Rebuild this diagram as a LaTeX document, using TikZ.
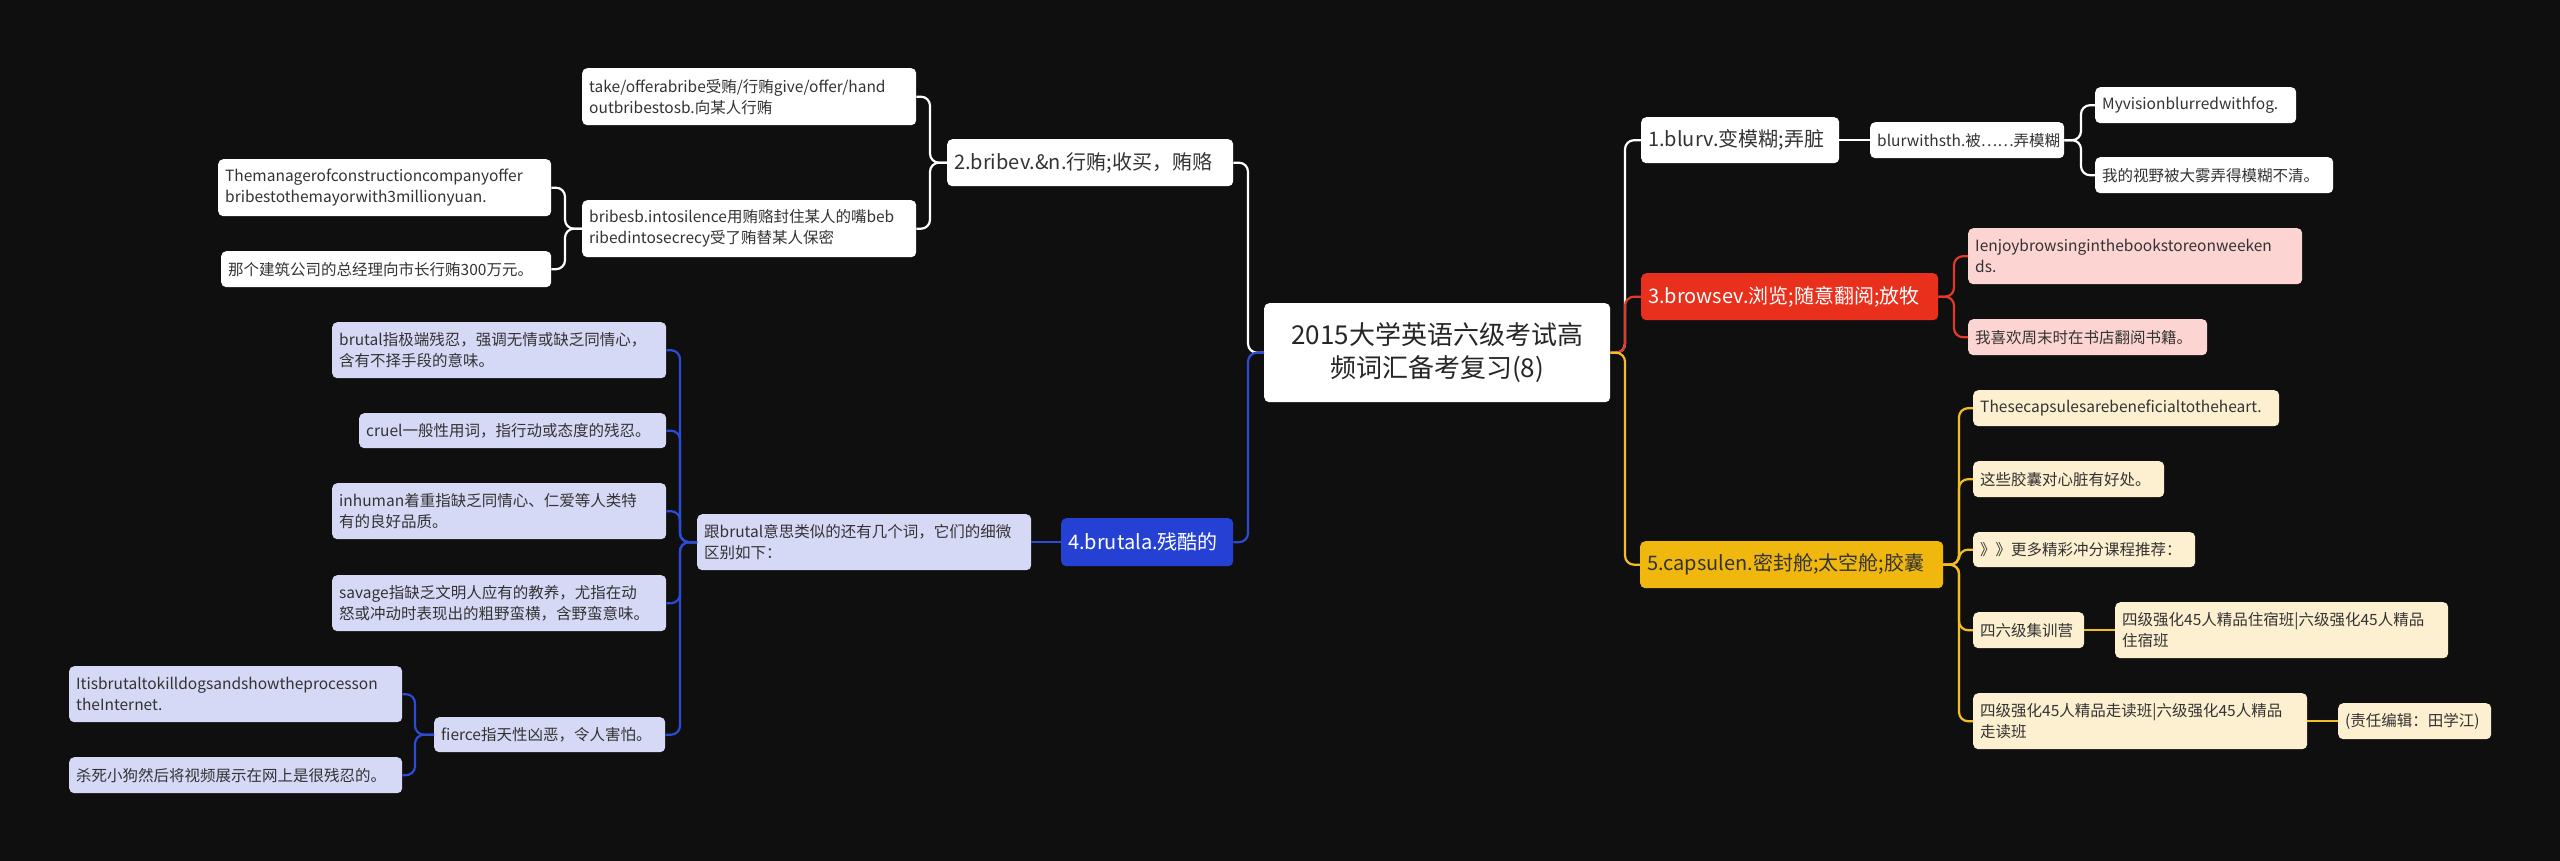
\documentclass[tikz,border=0pt]{standalone}
\usepackage{fontspec}
\setmainfont{Noto Sans CJK SC}
\definecolor{bgc}{HTML}{0F0F0F}
\definecolor{txt}{HTML}{333333}
\definecolor{blueA}{HTML}{2541D4}
\definecolor{blueL}{HTML}{2E4BD6}
\definecolor{lav}{HTML}{D6D9F6}
\definecolor{redA}{HTML}{E8301C}
\definecolor{redL}{HTML}{E03A2A}
\definecolor{pink}{HTML}{FCD4D1}
\definecolor{gold}{HTML}{F0B80F}
\definecolor{goldL}{HTML}{F2BE22}
\definecolor{cream}{HTML}{FDF0D0}
\tikzset{
  basebox/.style={rounded corners=5pt, text=txt, align=left, inner xsep=7pt, inner ysep=3pt,
     font=\fontsize{15.5}{21}\selectfont},
  wbox/.style={basebox, fill=white},
  lbox/.style={basebox, fill=lav},
  pbox/.style={basebox, fill=pink},
  cbox/.style={basebox, fill=cream},
  topic/.style={basebox, font=\fontsize{20}{25}\selectfont},
  wtopic/.style={topic, fill=white},
  btopic/.style={topic, fill=blueA, text=white},
  rtopic/.style={topic, fill=redA, text=white},
  gtopic/.style={topic, fill=gold, text=txt},
  centerbox/.style={basebox, fill=white, align=center, text=black!85,
     font=\fontsize{26}{33}\selectfont},
  conn/.style={line width=2.2pt, rounded corners=9pt},
  wl/.style={conn, draw=white},
  bl/.style={conn, draw=blueL},
  rl/.style={conn, draw=redL},
  yl/.style={conn, draw=goldL},
}
\newcommand\mkbox[7]{%
  \pgfmathsetmacro\mkw{#5-#3}%
  \pgfmathsetmacro\mkh{#6-#4}%
  \pgfmathsetmacro\mktw{#5-#3-14}%
  \node[#1, anchor=north west, minimum width=\mkw pt, minimum height=\mkh pt, text width=\mktw pt] (#2) at (#3,-#4) {#7};}
\begin{document}
\begin{tikzpicture}[x=1pt,y=1pt]
\fill[bgc] (0,0) rectangle (2560,-861);
\useasboundingbox (0,0) rectangle (2560,-861);

% bracket coordinates
\coordinate (TL) at (1248,0);
\coordinate (TR) at (1625,0);
\coordinate (B1) at (930,0);
\coordinate (B2) at (565,0);
\coordinate (B3) at (680,0);
\coordinate (B4) at (415,0);
\coordinate (B5) at (2081,0);
\coordinate (B6) at (1954,0);
\coordinate (B7) at (1959,0);

% center
\mkbox{centerbox}{c}{1264}{303}{1610}{402}{2015大学英语六级考试高\\频词汇备考复习(8)}

% left side
\mkbox{wtopic}{bribe}{947}{139}{1233}{186}{2.bribev.\&n.行贿;收买，贿赂}
\mkbox{wbox}{take}{582}{68}{916}{125}{take/offerabribe受贿/行贿give/offer/hand\\outbribestosb.向某人行贿}
\mkbox{wbox}{bsb}{582}{200}{916}{257}{bribesb.intosilence用贿赂封住某人的嘴beb\\ribedintosecrecy受了贿替某人保密}
\mkbox{wbox}{mgr}{218}{159}{551}{216}{Themanagerofconstructioncompanyoffer\\bribestothemayorwith3millionyuan.}
\mkbox{wbox}{nage}{221}{251}{551}{287}{那个建筑公司的总经理向市长行贿300万元。}

\mkbox{btopic}{brutal}{1061}{518}{1233}{566}{4.brutala.残酷的}
\mkbox{lbox}{gen}{697}{514}{1031}{570}{跟brutal意思类似的还有几个词，它们的细微\\区别如下：}
\mkbox{lbox}{bz}{332}{322}{666}{378}{brutal指极端残忍，强调无情或缺乏同情心，\\含有不择手段的意味。}
\mkbox{lbox}{cruel}{359}{413}{666}{448}{cruel一般性用词，指行动或态度的残忍。}
\mkbox{lbox}{inh}{332}{483}{666}{539}{inhuman着重指缺乏同情心、仁爱等人类特\\有的良好品质。}
\mkbox{lbox}{sav}{332}{575}{666}{631}{savage指缺乏文明人应有的教养，尤指在动\\怒或冲动时表现出的粗野蛮横，含野蛮意味。}
\mkbox{lbox}{fierce}{434}{717}{665}{752}{fierce指天性凶恶，令人害怕。}
\mkbox{lbox}{itis}{69}{666}{402}{722}{Itisbrutaltokilldogsandshowtheprocesson\\theInternet.}
\mkbox{lbox}{shasi}{69}{757}{402}{793}{杀死小狗然后将视频展示在网上是很残忍的。}

% right side
\mkbox{wtopic}{blur}{1641}{117}{1839}{163}{1.blurv.变模糊;弄脏}
\mkbox{wbox}{bw}{1870}{122}{2064}{158}{blurwithsth.被……弄模糊}
\mkbox{wbox}{myv}{2095}{87}{2296}{123}{Myvisionblurredwithfog.}
\mkbox{wbox}{wdsy}{2095}{157}{2333}{193}{我的视野被大雾弄得模糊不清。}

\mkbox{rtopic}{browse}{1641}{273}{1938}{320}{3.browsev.浏览;随意翻阅;放牧}
\mkbox{pbox}{enjoy}{1968}{228}{2302}{284}{Ienjoybrowsinginthebookstoreonweeken\\ds.}
\mkbox{pbox}{wxh}{1968}{319}{2207}{355}{我喜欢周末时在书店翻阅书籍。}

\mkbox{gtopic}{caps}{1640}{541}{1943}{588}{5.capsulen.密封舱;太空舱;胶囊}
\mkbox{cbox}{these}{1973}{390}{2279}{426}{Thesecapsulesarebeneficialtotheheart.}
\mkbox{cbox}{zhexie}{1973}{461}{2164}{497}{这些胶囊对心脏有好处。}
\mkbox{cbox}{more}{1973}{532}{2195}{567}{》》更多精彩冲分课程推荐：}
\mkbox{cbox}{camp}{1973}{612}{2084}{648}{四六级集训营}
\mkbox{cbox}{zhusu}{2115}{602}{2448}{658}{四级强化45人精品住宿班|六级强化45人精品\\住宿班}
\mkbox{cbox}{zoudu}{1973}{693}{2307}{749}{四级强化45人精品走读班|六级强化45人精品\\走读班}
\mkbox{cbox}{editor}{2338}{703}{2491}{739}{(责任编辑：田学江)}

% connectors - left
\draw[wl] (c.west) -- (c.west -| TL) |- (bribe.east);
\draw[bl] (c.west) -- (c.west -| TL) |- (brutal.east);
\draw[wl] (bribe.west) -- (bribe.west -| B1) |- (take.east);
\draw[wl] (bribe.west) -- (bribe.west -| B1) |- (bsb.east);
\draw[wl] (bsb.west) -- (bsb.west -| B2) |- (mgr.east);
\draw[wl] (bsb.west) -- (bsb.west -| B2) |- (nage.east);
\draw[bl] (brutal.west) -- (gen.east);
\foreach \k in {bz,cruel,inh,sav,fierce}
  \draw[bl] (gen.west) -- (gen.west -| B3) |- (\k.east);
\draw[bl] (fierce.west) -- (fierce.west -| B4) |- (itis.east);
\draw[bl] (fierce.west) -- (fierce.west -| B4) |- (shasi.east);

% connectors - right
\draw[wl] (c.east) -- (c.east -| TR) |- (blur.west);
\draw[rl] (c.east) -- (c.east -| TR) |- (browse.west);
\draw[yl] (c.east) -- (c.east -| TR) |- (caps.west);
\draw[wl] (blur.east) -- (bw.west);
\draw[wl] (bw.east) -- (bw.east -| B5) |- (myv.west);
\draw[wl] (bw.east) -- (bw.east -| B5) |- (wdsy.west);
\draw[rl] (browse.east) -- (browse.east -| B6) |- (enjoy.west);
\draw[rl] (browse.east) -- (browse.east -| B6) |- (wxh.west);
\foreach \k in {these,zhexie,more,camp,zoudu}
  \draw[yl] (caps.east) -- (caps.east -| B7) |- (\k.west);
\draw[yl] (camp.east) -- (zhusu.west);
\draw[yl] (zoudu.east) -- (editor.west);
\end{tikzpicture}
\end{document}
